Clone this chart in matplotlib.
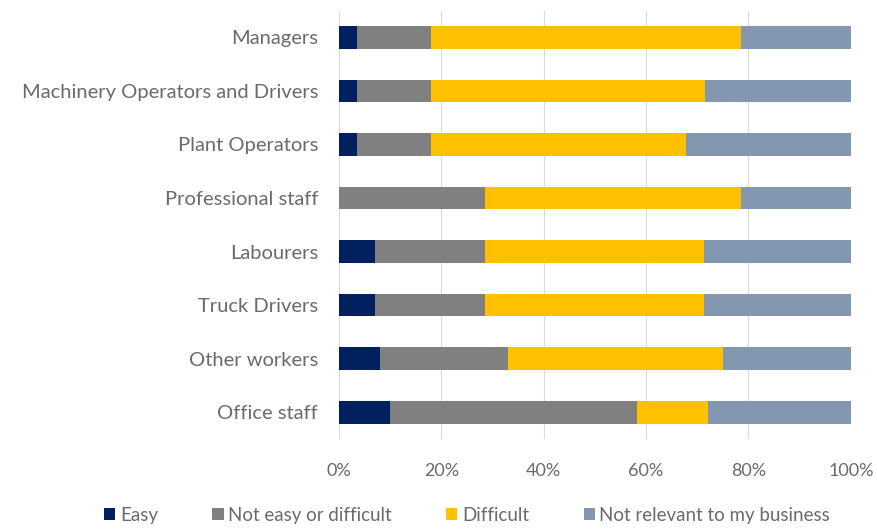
import numpy as np
import matplotlib.pyplot as plt

plt.rcParams['font.family'] = ['Lato', 'DejaVu Sans']

roles = ['Managers', 'Machinery Operators and Drivers', 'Plant Operators',
         'Professional staff', 'Labourers', 'Truck Drivers', 'Other workers',
         'Office staff']
easy = [3.6, 3.6, 3.6, 0.0, 7.1, 7.1, 8.0, 10.0]
not_easy = [14.3, 14.3, 14.3, 28.6, 21.4, 21.4, 25.0, 48.3]
difficult = [60.7, 53.6, 50.0, 50.0, 42.9, 42.9, 42.0, 13.8]
not_relevant = [21.4, 28.5, 32.1, 21.4, 28.6, 28.6, 25.0, 27.9]

series = [('Easy', easy, '#002060'),
          ('Not easy or difficult', not_easy, '#808080'),
          ('Difficult', difficult, '#FFC000'),
          ('Not relevant to my business', not_relevant, '#8497B0')]

fig = plt.figure(figsize=(8.78, 5.29), dpi=100)
ax = fig.add_axes([0.386, 0.17, 0.583, 0.81])

y = np.arange(len(roles))
left = np.zeros(len(roles))
for name, vals, col in series:
    ax.barh(y, vals, left=left, height=0.42, color=col, label=name, zorder=3)
    left += np.array(vals)

ax.set_ylim(len(roles) - 0.5, -0.5)
ax.set_xlim(0, 100)
ax.set_xticks(np.arange(0, 101, 20))
ax.set_xticklabels([f'{v}%' for v in range(0, 101, 20)])
ax.set_yticks(y)
ax.set_yticklabels(roles)
ax.tick_params(length=0, colors='#6a6a6a')
ax.tick_params(axis='y', labelsize=14.5, pad=15)
ax.tick_params(axis='x', labelsize=13, pad=17)
ax.grid(axis='x', color='#d9d9d9', lw=0.8, zorder=0)
for s in ax.spines.values():
    s.set_visible(False)

fig.legend(loc='lower center', bbox_to_anchor=(0.532, -0.022), ncol=4,
           frameon=False, fontsize=13.5, handlelength=0.6, handleheight=0.6,
           handletextpad=0.25, columnspacing=2.9, labelcolor='#6a6a6a')

fig.savefig('out.png', dpi=100)
